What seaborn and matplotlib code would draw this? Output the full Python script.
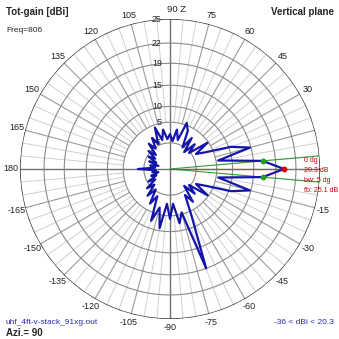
import numpy as np
import pandas as pd
import matplotlib
matplotlib.use("Agg")
import matplotlib.pyplot as plt
import seaborn as sns

# Elevation angles (deg) and total gain (dBi), 5 degree steps
angles_up = [0, 5, 10, 15, 20, 25, 30, 35, 40, 45, 50, 55, 60, 65, 70, 75, 80, 85, 90,
             95, 100, 105, 110, 115, 120, 125, 130, 135, 140, 145, 150, 155, 160, 165, 170, 175, 180]
gain_up = [20.3, 16.8, 5.8, 14.8, 10.6, 2.3, -2.6, 4.7, -5.8, 0.0, -7.9, 1.4, -5.8, 3.2, 5.8, -2.6, 2.3, -3.8, 0.0,
           -2.6, 2.3, -2.6, 4.0, -3.8, 0.5, -5.8, -1.0, -9.6, -3.8, -11.4, -5.8, -14.5, -7.9, -18.3, -9.6, -14.5, -1.5]
angles_dn = [-5, -10, -15, -20, -25, -30, -35, -40, -45, -50, -55, -60, -65, -70, -75, -80, -85, -90,
             -95, -100, -105, -110, -115, -120, -125, -130, -135, -140, -145, -150, -155, -160, -165, -170, -175]
gain_dn = [16.8, 5.8, 14.8, 10.6, 2.3, -2.6, 4.7, -5.8, 0.0, -7.9, 2.3, -2.6, 6.1, 19.0, 4.3, 7.8, 0.0, 6.1,
           0.0, 9.3, 2.3, 7.8, -2.6, 2.3, -5.8, 0.0, -7.9, -2.6, -11.4, -5.8, -14.5, -9.6, -18.3, -11.4, -15.7]

ring_db = [25, 22, 19, 15, 10, 5, -5]
ring_labels = ["25", "22", "19", "15", "10", "5", "-5"]
angle_ticks = [105, 120, 135, 150, 165, 180, -165, -150, -135, -120, -105, -90,
               -75, -60, -45, -30, -15, 30, 45, 60, 75]

peak_db = 20.3
peak_angle = 0
bw_edges = [5, -5]
bw_gain = 16.8
g_max, g_min = 20.3, -36
scale_top = 25


def arrl(db):
    """ARRL log scale: radius shrinks by 0.89 for every 2 dB below the top ring."""
    return 0.89 ** ((scale_top - np.asarray(db, dtype=float)) / 2.0)


sns.set_style("white")
plt.rcParams["font.family"] = ["Liberation Sans", "DejaVu Sans"]

fig = plt.figure(figsize=(3.39, 3.39), dpi=100)
ax = fig.add_axes([20 / 339, 20 / 339, 300 / 339, 300 / 339], projection="polar")
ax.set_ylim(0, 1)
ax.set_xticks([])
ax.set_yticks([])
ax.grid(False)
ax.spines["polar"].set_visible(False)

# grid: spokes every 5 deg (darker every 15), rings on the ARRL scale
r_in = float(arrl(5))
for a in range(0, 360, 5):
    t = np.radians(a)
    if a % 90 == 0:
        continue
    col, lw = ("#9a9a9a", 0.8) if a % 15 == 0 else ("#d0d0d0", 0.7)
    ax.plot([t, t], [r_in, 1.0], color=col, lw=lw, zorder=1)
for a in (0, 90):
    t = np.radians(a)
    ax.plot([t, t + np.pi], [1.0, 1.0], color="#707070", lw=1.0, zorder=2)
th = np.linspace(0, 2 * np.pi, 361)
for db in ring_db[1:]:
    ax.plot(th, np.full_like(th, arrl(db)), color="#8a8a8a", lw=0.8, zorder=2)
ax.plot(th, np.ones_like(th), color="#303030", lw=1.0, zorder=3)

# ring labels just left of the upper vertical axis
for db, lab in zip(ring_db, ring_labels):
    ax.annotate(lab, xy=(np.pi / 2, float(arrl(db))), xytext=(-6, 0),
                textcoords="offset points", ha="right", va="center",
                fontsize=6.3, color="#202020", zorder=4)

# angle labels outside the outer ring
for a in angle_ticks:
    ax.text(np.radians(a), 1.06, str(a), ha="center", va="center",
            fontsize=6.5, color="#202020")
ax.annotate("90 Z", xy=(np.pi / 2, 1.0), xytext=(-2, 7), textcoords="offset points",
            ha="left", va="center", fontsize=6.8, color="#202020")

# beamwidth and peak markers
for a in bw_edges:
    t = np.radians(a)
    ax.plot([t, t], [0, 1.0], color="#3a9a3a", lw=0.8, zorder=5)
    ax.plot([t], [float(arrl(bw_gain))], "o", color="#20a020", ms=3.2, zorder=7)
t0 = np.radians(peak_angle)
ax.plot([t0, t0], [0, float(arrl(peak_db))], color="#c04040", lw=0.8, zorder=5)
ax.plot([t0], [float(arrl(peak_db))], "o", color="#e00000", ms=3.2, zorder=7)

# gain pattern
ang = angles_up + angles_dn[::-1] + [angles_up[0]]
gain = gain_up + gain_dn[::-1] + [gain_up[0]]
df = pd.DataFrame({"theta": np.radians(ang), "r": arrl(gain)})
sns.lineplot(data=df, x="theta", y="r", sort=False, estimator=None, ax=ax,
             color="#1414a8", lw=1.6, zorder=6)
ax.set_xlabel("")
ax.set_ylabel("")

# text annotations
red = "#d00000"
for y, s in [(161, f"{peak_angle} dg"), (171, f"{peak_db} dB"),
             (181, "bw: 5 dg"), (190, "fb: 25.1 dB")]:
    fig.text(304 / 339, 1 - y / 339, s, color=red, fontsize=5.0, va="center")

fig.text(6 / 339, 1 - 12 / 339, "Tot-gain [dBi]", fontsize=7, fontweight="bold", va="center")
fig.text(6 / 339, 1 - 31 / 339, "Freq=806", fontsize=6, va="center")
fig.text(334 / 339, 1 - 12 / 339, "Vertical plane", fontsize=7, fontweight="bold",
         va="center", ha="right")
fig.text(6 / 339, 1 - 322 / 339, "uhf_4ft-v-stack_91xg.out", fontsize=6,
         color="#2828c0", va="center")
fig.text(6 / 339, 1 - 333 / 339, "Azi.= 90", fontsize=7, fontweight="bold", va="center")
fig.text(334 / 339, 1 - 322 / 339, f"{g_min} < dBi < {g_max}", fontsize=6,
         color="#2828c0", va="center", ha="right")

fig.savefig("out.png", dpi=100)
